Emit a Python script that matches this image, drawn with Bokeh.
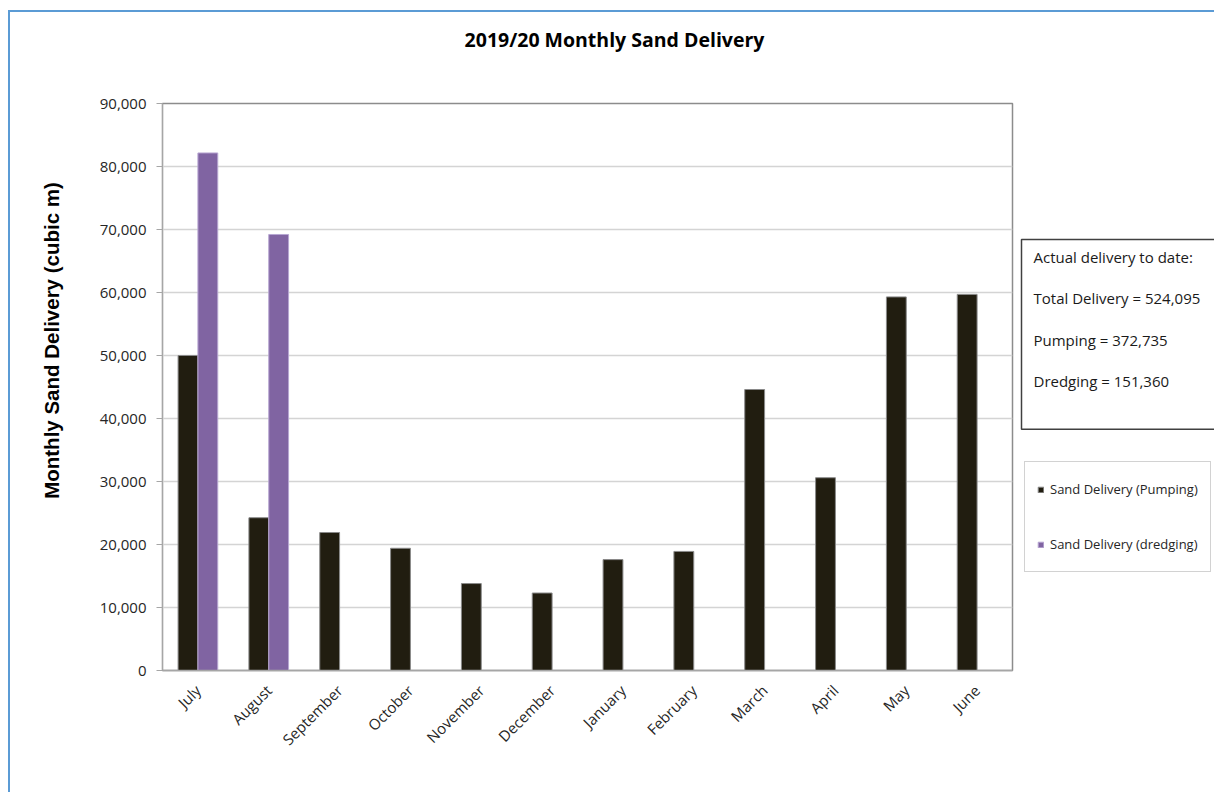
import math
from bokeh.plotting import figure
from bokeh.layouts import row
from bokeh.models import (ColumnDataSource, FactorRange, Range1d, NumeralTickFormatter,
                          Label, Legend, LegendItem, FixedTicker)
from bokeh.transform import dodge
from bokeh.embed import file_html
from bokeh.resources import INLINE

# ---- data ----
months = ["July", "August", "September", "October", "November", "December",
          "January", "February", "March", "April", "May", "June"]
pumping = [50000, 24250, 21900, 19400, 13800, 12300, 17600, 18900, 44600, 30600, 59300, 59700]
dredging = [82150, 69210, 0, 0, 0, 0, 0, 0, 0, 0, 0, 0]
y_ticks = [0, 10000, 20000, 30000, 40000, 50000, 60000, 70000, 80000, 90000]
title_text = "2019/20 Monthly Sand Delivery"
y_label = "Monthly Sand Delivery (cubic m)"
series_names = ["Sand Delivery (Pumping)", "Sand Delivery (dredging)"]
series_colors = ["#211D10", "#8064A2"]
series_lines = ["#8a8a8a", "#B7A6D2"]
summary_lines = ["Actual delivery to date:", "Total Delivery = 524,095",
                 "Pumping = 372,735", "Dredging = 151,360"]

src_p = ColumnDataSource(dict(month=months, value=pumping))
d_idx = [i for i, v in enumerate(dredging) if v > 0]
src_d = ColumnDataSource(dict(month=[months[i] for i in d_idx], value=[dredging[i] for i in d_idx]))

H = 780
p = figure(x_range=FactorRange(*months, range_padding=0), y_range=Range1d(0, 90000),
           frame_width=850, frame_height=567,
           min_border_left=152, min_border_right=4, min_border_top=91, min_border_bottom=122,
           output_backend="svg", toolbar_location=None, tools="")

p.vbar(x=dodge("month", -0.14, range=p.x_range), top="value", width=0.28, source=src_p,
       fill_color=series_colors[0], line_color=series_lines[0], line_width=1)
p.vbar(x=dodge("month", 0.14, range=p.x_range), top="value", width=0.28, source=src_d,
       fill_color=series_colors[1], line_color=series_lines[1], line_width=1)

# axes
p.yaxis.ticker = FixedTicker(ticks=y_ticks)
p.yaxis.formatter = NumeralTickFormatter(format="0,0")
p.yaxis.major_label_text_font = "Open Sans"
p.yaxis.major_label_text_font_size = "15px"
p.yaxis.major_label_text_color = "#262626"
p.yaxis.axis_line_color = "#a6a6a6"
p.yaxis.major_tick_line_color = "#a6a6a6"
p.yaxis.major_tick_in = 0
p.yaxis.major_tick_out = 6
p.yaxis.minor_tick_line_color = None
p.yaxis.major_label_standoff = 10

p.xaxis.major_label_orientation = math.pi / 4
p.xaxis.major_label_text_font = "Open Sans"
p.xaxis.major_label_text_font_size = "15px"
p.xaxis.major_label_text_color = "#262626"
p.xaxis.axis_line_color = "#a6a6a6"
p.xaxis.axis_line_width = 1.5
p.xaxis.major_tick_line_color = None
p.xaxis.minor_tick_line_color = None
p.xaxis.major_label_standoff = 11

p.xgrid.grid_line_color = None
p.ygrid.grid_line_color = "#d4d4d4"
p.ygrid.grid_line_width = 1.5
p.outline_line_color = "#8c8c8c"
p.outline_line_width = 1.5

# title (above panel: x from frame left, y up from frame top)
p.add_layout(Label(x=452, y=64, x_units="screen", y_units="screen", text=title_text,
                   text_font="Open Sans", text_font_style="bold", text_font_size="19.5px",
                   text_align="center", text_baseline="middle", text_color="#000000"), "above")
# y axis label (left panel, outside the axis)
p.add_layout(Label(x=-22, y=330, x_units="screen", y_units="screen", text=y_label,
                   angle=math.pi / 2, text_font="Liberation Sans", text_font_style="bold",
                   text_font_size="20.5px", text_align="center", text_baseline="middle",
                   text_color="#000000"), "left")

# ---- side panel: summary box + legend ----
side = figure(width=198, height=H, x_range=FactorRange(*months), y_range=Range1d(0, 90000),
              x_axis_type=None, y_axis_type=None, min_border=0,
              output_backend="svg", toolbar_location=None, tools="")
side.grid.visible = False
side.outline_line_color = None

side.add_layout(Label(x=5, y=431, x_units="screen", y_units="screen",
                      text="\n \n".join(summary_lines), anchor="top_left",
                      text_font="Open Sans", text_font_size="15px", text_color="#1a1a1a",
                      text_line_height=1.04,
                      border_line_color="#404040", border_line_width=1.5,
                      background_fill_color="white",
                      padding=dict(left=12, right=40, top=7, bottom=38)))

# hidden copies of the two series: they only supply the legend swatches
k1 = side.vbar(x="month", top="value", width=0.28, source=src_p, visible=False,
               fill_color=series_colors[0], line_color=series_lines[0])
k2 = side.vbar(x="month", top="value", width=0.28, source=src_d, visible=False,
               fill_color=series_colors[1], line_color=series_lines[1])
legend = Legend(items=[LegendItem(label=series_names[0], renderers=[k1]),
                       LegendItem(label=series_names[1], renderers=[k2])],
                location=(8, 98), orientation="vertical",
                label_text_font="Open Sans", label_text_font_size="13px",
                label_text_color="#262626",
                glyph_width=7, glyph_height=7, label_height=30, label_standoff=6,
                spacing=25, padding=12, margin=0,
                border_line_color="#a6a6a6", border_line_width=1,
                background_fill_color="white", background_fill_alpha=1)
side.add_layout(legend, "center")

layout = row(p, side, spacing=0)
layout.styles = {"border-left": "2px solid #5B9BD5", "border-top": "2px solid #5B9BD5",
                 "margin-top": "10px", "margin-left": "8px"}

open("out.html", "w").write(file_html(layout, INLINE))
